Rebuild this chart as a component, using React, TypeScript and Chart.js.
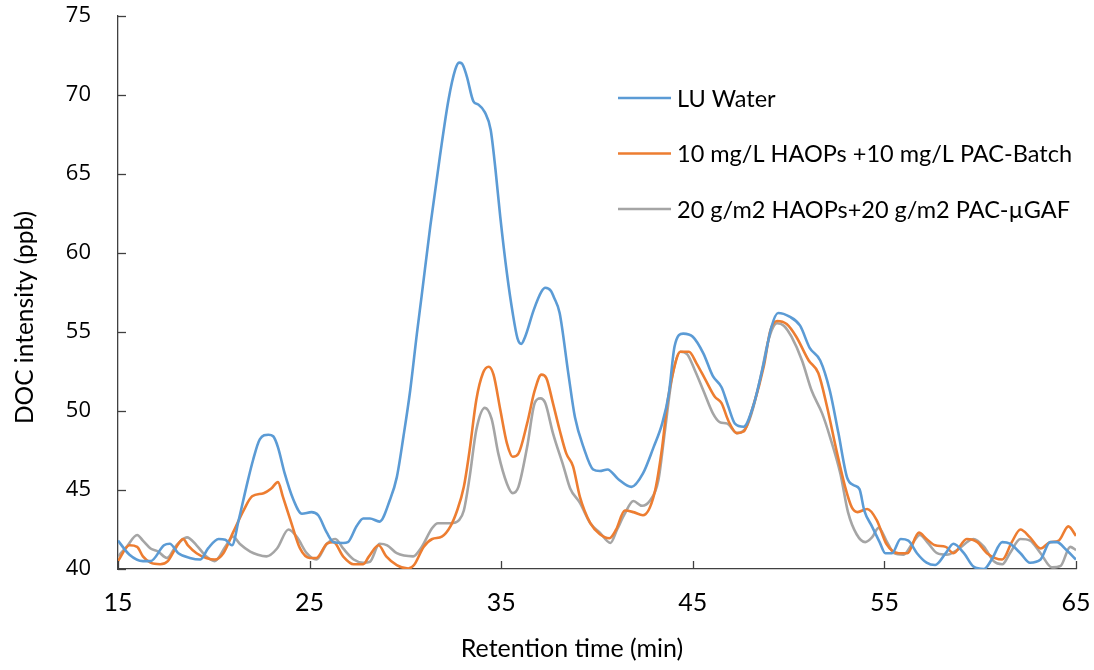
import React, { useEffect, useRef } from 'react';
import { Chart, registerables } from 'chart.js';

Chart.register(...registerables);

// ---- Data ----
const luTime = [15.0, 15.6, 16.3, 16.7, 17.4, 17.7, 18.15, 18.75, 19.3, 19.7, 20.25, 20.6, 20.95, 21.3, 21.7, 22.05, 22.4, 22.85, 23.1, 23.35, 23.7, 24.15, 24.6, 25.1, 25.45, 25.9, 26.25, 26.75, 27.0, 27.45, 27.8, 28.15, 28.65, 29.2, 29.55, 29.9, 30.25, 30.6, 30.85, 31.3, 31.8, 32.25, 32.6, 32.8, 32.95, 33.2, 33.55, 33.8, 34.15, 34.45, 34.7, 34.95, 35.3, 35.6, 35.85, 36.05, 36.25, 36.7, 37.1, 37.3, 37.6, 37.75, 38.05, 38.5, 38.85, 39.3, 39.8, 40.15, 40.55, 41.1, 41.8, 42.4, 42.95, 43.4, 43.75, 44.05, 44.5, 45.0, 45.55, 46.05, 46.5, 46.85, 47.2, 47.65, 48.15, 48.7, 49.1, 49.45, 50.05, 50.6, 51.1, 51.65, 52.15, 52.6, 53.05, 53.4, 53.7, 53.95, 54.35, 54.75, 55.05, 55.4, 55.85, 56.25, 56.7, 57.2, 57.65, 58.2, 58.6, 59.15, 59.65, 60.2, 60.6, 61.15, 61.55, 62.1, 62.6, 63.15, 63.65, 64.0, 64.5, 65.0];
const luValues = [41.8, 40.9, 40.5, 40.5, 41.5, 41.6, 41.0, 40.7, 40.6, 41.3, 41.9, 41.85, 41.5, 43.1, 45.2, 46.9, 48.2, 48.5, 48.4, 47.7, 46.05, 44.4, 43.5, 43.6, 43.4, 42.3, 41.7, 41.65, 41.7, 42.7, 43.2, 43.2, 43.0, 44.4, 45.8, 48.4, 51.3, 54.9, 57.3, 61.7, 66.1, 69.7, 71.6, 72.05, 72.0, 71.2, 69.6, 69.4, 68.9, 67.8, 65.3, 62.3, 58.7, 56.2, 54.6, 54.25, 54.7, 56.4, 57.55, 57.8, 57.6, 57.2, 56.2, 52.4, 49.6, 47.7, 46.3, 46.2, 46.3, 45.7, 45.2, 46.05, 47.7, 49.2, 51.1, 54.1, 54.9, 54.7, 53.65, 52.2, 51.5, 50.3, 49.2, 49.0, 50.3, 53.0, 55.3, 56.2, 55.97, 55.4, 54.0, 53.2, 51.3, 48.6, 45.8, 45.3, 45.05, 43.7, 42.7, 41.7, 41.0, 41.0, 41.9, 41.8, 41.0, 40.4, 40.25, 41.0, 41.6, 41.0, 40.15, 40.0, 40.6, 41.7, 41.6, 41.0, 40.4, 40.6, 41.7, 41.7, 41.2, 40.6];

const batchTime = [15.0, 15.6, 16.0, 16.3, 16.7, 17.2, 17.6, 18.05, 18.4, 18.65, 19.1, 19.6, 20.05, 20.5, 21.0, 21.55, 22.0, 22.6, 23.0, 23.35, 23.6, 24.05, 24.5, 25.0, 25.35, 25.9, 26.25, 26.75, 27.3, 27.8, 28.1, 28.6, 29.0, 29.55, 30.15, 30.45, 30.95, 31.4, 31.9, 32.35, 32.7, 33.05, 33.35, 33.7, 34.05, 34.35, 34.6, 34.95, 35.3, 35.6, 35.9, 36.35, 36.75, 37.1, 37.35, 37.7, 38.05, 38.4, 38.75, 39.1, 39.65, 40.15, 40.65, 41.0, 41.45, 41.9, 42.4, 43.0, 43.4, 43.65, 44.0, 44.35, 44.8, 45.2, 45.65, 46.15, 46.5, 46.85, 47.3, 47.65, 48.15, 48.7, 49.05, 49.4, 49.9, 50.4, 51.05, 51.55, 52.0, 52.5, 52.95, 53.3, 53.6, 54.1, 54.6, 55.1, 55.75, 56.2, 56.8, 57.2, 57.65, 58.2, 58.6, 59.3, 59.85, 60.35, 61.15, 61.65, 62.1, 62.6, 63.15, 63.65, 64.1, 64.6, 65.0];
const batchValues = [40.5, 41.5, 41.4, 40.8, 40.4, 40.3, 40.5, 41.4, 41.9, 41.5, 41.0, 40.7, 40.6, 41.0, 42.3, 43.7, 44.6, 44.8, 45.1, 45.5, 44.6, 42.9, 41.3, 40.7, 40.7, 41.6, 41.7, 40.8, 40.3, 40.3, 40.8, 41.5, 40.8, 40.25, 40.03, 40.25, 41.4, 41.9, 42.05, 42.7, 43.7, 45.2, 47.5, 50.7, 52.4, 52.8, 52.3, 50.1, 47.95, 47.1, 47.3, 49.2, 51.3, 52.3, 52.1, 50.5, 48.8, 47.3, 46.5, 44.6, 42.9, 42.2, 41.95, 42.5, 43.7, 43.6, 43.4, 44.8, 47.7, 50.3, 52.6, 53.75, 53.75, 53.0, 52.0, 50.9, 50.5, 49.4, 48.6, 48.7, 50.3, 52.8, 55.1, 55.7, 55.5, 54.7, 53.2, 52.4, 50.3, 47.5, 45.2, 43.9, 43.6, 43.8, 43.1, 41.6, 41.0, 41.0, 42.3, 41.9, 41.5, 41.4, 41.0, 41.9, 41.7, 41.0, 40.6, 41.7, 42.5, 42.0, 41.3, 41.7, 41.8, 42.7, 42.1];

const gafTime = [15.0, 15.45, 16.0, 16.3, 16.7, 17.1, 17.55, 18.05, 18.6, 19.1, 19.6, 20.05, 20.6, 21.0, 21.35, 21.9, 22.3, 22.75, 23.3, 23.9, 24.35, 24.85, 25.35, 25.9, 26.35, 26.75, 27.3, 27.8, 28.15, 28.65, 29.05, 29.55, 30.4, 30.85, 31.4, 31.7, 32.35, 32.8, 33.05, 33.35, 33.7, 34.15, 34.5, 34.85, 35.3, 35.6, 35.9, 36.35, 36.75, 37.05, 37.3, 37.7, 38.25, 38.6, 39.1, 39.65, 40.15, 40.7, 41.05, 41.45, 41.9, 42.35, 42.75, 43.2, 43.55, 43.9, 44.35, 44.7, 45.1, 45.55, 46.05, 46.4, 46.8, 47.3, 47.8, 48.15, 48.6, 48.95, 49.4, 49.75, 50.15, 50.7, 51.2, 51.75, 52.15, 52.7, 53.1, 53.55, 54.0, 54.35, 54.7, 55.1, 55.5, 56.0, 56.45, 56.85, 57.3, 57.75, 58.25, 58.8, 59.65, 60.2, 60.7, 61.15, 61.55, 62.1, 62.6, 63.15, 63.75, 64.2, 64.7, 65.0];
const gafValues = [40.8, 41.4, 42.15, 41.8, 41.3, 41.1, 40.7, 41.5, 42.0, 41.5, 40.8, 40.5, 41.4, 42.05, 41.6, 41.1, 40.9, 40.8, 41.3, 42.5, 42.0, 41.0, 40.6, 41.6, 41.9, 41.3, 40.6, 40.4, 40.46, 41.6, 41.5, 41.0, 40.8, 41.4, 42.6, 42.9, 42.9, 43.1, 43.7, 45.8, 48.8, 50.2, 49.5, 47.3, 45.4, 44.8, 45.2, 47.7, 50.5, 50.8, 50.5, 48.6, 46.5, 45.1, 44.2, 42.9, 42.3, 41.65, 42.5, 43.5, 44.3, 44.0, 44.3, 45.6, 48.8, 52.0, 53.75, 53.6, 52.6, 51.3, 49.85, 49.3, 49.2, 48.6, 49.0, 50.2, 52.5, 54.5, 55.55, 55.4, 54.7, 53.2, 51.3, 49.85, 48.4, 46.05, 43.6, 42.2, 41.7, 42.0, 42.6, 41.8, 41.0, 40.9, 41.6, 42.15, 41.6, 41.0, 40.9, 41.2, 41.9, 41.4, 40.5, 40.3, 41.0, 41.9, 41.8, 41.0, 40.1, 40.2, 41.4, 41.2];

const seriesLabels = [
  'LU Water',
  '10 mg/L HAOPs +10 mg/L PAC-Batch',
  '20 g/m2 HAOPs+20 g/m2 PAC-\u00b5GAF',
];
const seriesColors = ['#5B9BD5', '#ED7D31', '#A5A5A5'];
const xTickValues = [15, 25, 35, 45, 55, 65];
const yTickValues = [40, 45, 50, 55, 60, 65, 70, 75];
const xAxisTitle = 'Retention time (min)';
const yAxisTitle = 'DOC intensity (ppb)';

const toPoints = (t: number[], v: number[]) => t.map((x, i) => ({ x, y: v[i] }));

const insideTicks = {
  id: 'insideTicks',
  afterDatasetsDraw(chart: any) {
    const { ctx, chartArea, scales } = chart;
    const x = scales.x;
    const y = scales.y;
    ctx.save();
    ctx.strokeStyle = '#404040';
    ctx.lineWidth = 1.3;
    x.ticks.forEach((t: any) => {
      const px = Math.round(x.getPixelForValue(t.value)) + 0.5;
      ctx.beginPath();
      ctx.moveTo(px, chartArea.bottom);
      ctx.lineTo(px, chartArea.bottom - 8);
      ctx.stroke();
    });
    y.ticks.forEach((t: any) => {
      const py = Math.round(y.getPixelForValue(t.value)) + 0.5;
      ctx.beginPath();
      ctx.moveTo(chartArea.left, py);
      ctx.lineTo(chartArea.left + 8, py);
      ctx.stroke();
    });
    ctx.restore();
  },
};

// Axis titles, placed as in the reference (slightly off the plot-area centre)
const axisTitles = {
  id: 'axisTitles',
  afterDraw(chart: any) {
    const { ctx, chartArea } = chart;
    ctx.save();
    ctx.fillStyle = '#000';
    ctx.textAlign = 'center';
    ctx.textBaseline = 'middle';
    ctx.font = '25px Lato, sans-serif';
    const cx = (chartArea.left + chartArea.right) / 2 - 25;
    ctx.fillText(xAxisTitle, cx, 649);
    const cy = (chartArea.top + chartArea.bottom) / 2 + 25;
    ctx.translate(25, cy);
    ctx.rotate(-Math.PI / 2);
    ctx.font = '24.5px Lato, sans-serif';
    ctx.fillText(yAxisTitle, 0, 0);
    ctx.restore();
  },
};

const innerLegend = {
  id: 'innerLegend',
  afterDraw(chart: any) {
    const { ctx } = chart;
    const startX = 618;
    const lineLen = 53;
    const gap = 6;
    const firstY = 98;
    const rowStep = 55.5;
    ctx.save();
    ctx.font = '23.5px Lato, "Noto Sans", sans-serif';
    ctx.textBaseline = 'middle';
    ctx.textAlign = 'left';
    chart.data.datasets.forEach((ds: any, i: number) => {
      const yy = firstY + i * rowStep;
      ctx.strokeStyle = ds.borderColor;
      ctx.lineWidth = 2.5;
      ctx.beginPath();
      ctx.moveTo(startX, yy);
      ctx.lineTo(startX + lineLen, yy);
      ctx.stroke();
      ctx.fillStyle = '#000';
      ctx.fillText(ds.label, startX + lineLen + gap, yy + 1);
    });
    ctx.restore();
  },
};

export default function App() {
  const canvasRef = useRef<HTMLCanvasElement | null>(null);

  useEffect(() => {
    document.body.style.margin = '0';
    const canvas = canvasRef.current;
    if (!canvas) return;
    const series = [
      toPoints(luTime, luValues),
      toPoints(batchTime, batchValues),
      toPoints(gafTime, gafValues),
    ];
    const chart = new Chart(canvas, {
      type: 'line',
      data: {
        datasets: series.map((pts, i) => ({
          label: seriesLabels[i],
          data: pts,
          borderColor: seriesColors[i],
          backgroundColor: seriesColors[i],
          borderWidth: 2.6,
          pointRadius: 0,
          tension: 0.4,
          cubicInterpolationMode: 'monotone',
          fill: false,
        })),
      },
      options: {
        responsive: false,
        animation: false,
        layout: { padding: { top: 16, right: 18, left: 0, bottom: 0 } },
        plugins: {
          legend: { display: false },
          tooltip: { enabled: false },
        },
        scales: {
          x: {
            type: 'linear',
            min: 15,
            max: 65,
            afterBuildTicks: (scale: any) => {
              scale.ticks = xTickValues.map((v) => ({ value: v }));
            },
            afterFit: (scale: any) => {
              scale.height = 101;
              scale.paddingLeft = 0;
              scale.paddingRight = 0;
              scale.paddingTop = 0;
              scale.paddingBottom = 0;
            },
            grid: { display: false, drawTicks: false },
            border: { display: true, color: '#404040', width: 1.3 },
            ticks: {
              padding: 19,
              color: '#000',
              maxRotation: 0,
              font: { family: 'Lato, sans-serif', size: 25 },
            },
            title: { display: false, text: xAxisTitle },
          },
          y: {
            type: 'linear',
            min: 40,
            max: 75,
            afterBuildTicks: (scale: any) => {
              scale.ticks = yTickValues.map((v) => ({ value: v }));
            },
            afterFit: (scale: any) => {
              scale.width = 118;
              scale.paddingLeft = 0;
              scale.paddingRight = 0;
              scale.paddingTop = 0;
              scale.paddingBottom = 0;
            },
            grid: { display: false, drawTicks: false },
            border: { display: true, color: '#404040', width: 1.3 },
            ticks: {
              padding: 27,
              color: '#000',
              font: { family: '"Open Sans", sans-serif', size: 22 },
            },
            title: { display: false, text: yAxisTitle },
          },
        },
      },
      plugins: [insideTicks, axisTitles, innerLegend],
    } as any);
    return () => chart.destroy();
  }, []);

  return (
    <div style={{ position: 'absolute', left: 0, top: 0, width: 1094, height: 670, background: '#fff' }}>
      <canvas ref={canvasRef} width={1094} height={670} />
    </div>
  );
}
